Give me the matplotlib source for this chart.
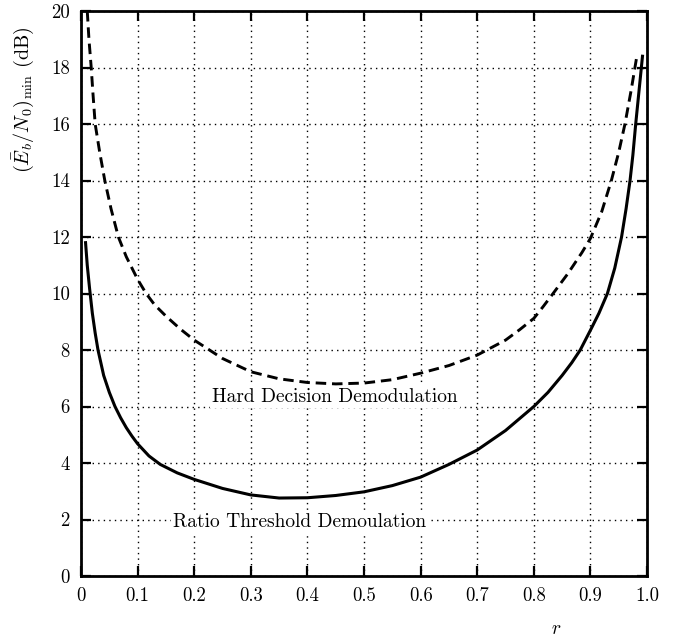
import matplotlib
matplotlib.use("Agg")
import matplotlib.pyplot as plt

plt.rcParams["font.family"] = ["cmr10", "DejaVu Serif"]
plt.rcParams["mathtext.fontset"] = "cm"
plt.rcParams["axes.formatter.use_mathtext"] = True

# Hard decision demodulation (dashed)
r_hd = [0.011, 0.014, 0.018, 0.021, 0.025, 0.033, 0.042, 0.053, 0.066, 0.08,
        0.09, 0.1, 0.115, 0.13, 0.15, 0.175, 0.2, 0.25, 0.3, 0.35, 0.4, 0.45,
        0.5, 0.55, 0.6, 0.65, 0.7, 0.75, 0.775, 0.8, 0.817, 0.834, 0.86,
        0.885, 0.9, 0.92, 0.937, 0.95, 0.961, 0.972, 0.982]
eb_hd = [20.0, 19.0, 18.0, 17.1, 16.0, 15.0, 14.0, 13.0, 12.0, 11.3,
         10.9, 10.5, 10.0, 9.6, 9.2, 8.75, 8.35, 7.7, 7.23, 6.98, 6.85, 6.8,
         6.83, 6.95, 7.18, 7.45, 7.82, 8.35, 8.72, 9.12, 9.55, 10.0, 10.7,
         11.45, 11.95, 12.9, 14.0, 15.0, 16.0, 17.2, 18.4]

# Ratio threshold demodulation (solid)
r_rt = [0.008, 0.011, 0.015, 0.02, 0.025, 0.03, 0.04, 0.05, 0.06, 0.07,
        0.08, 0.09, 0.1, 0.12, 0.14, 0.17, 0.2, 0.25, 0.3, 0.35, 0.4, 0.45,
        0.5, 0.55, 0.6, 0.65, 0.7, 0.75, 0.8, 0.825, 0.85, 0.867, 0.882, 0.9,
        0.915, 0.93, 0.943, 0.955, 0.963, 0.97, 0.975, 0.98, 0.986, 0.992]
eb_rt = [11.8, 11.0, 10.2, 9.3, 8.6, 8.0, 7.1, 6.5, 6.0, 5.6,
         5.25, 4.95, 4.68, 4.25, 3.95, 3.65, 3.42, 3.1, 2.87, 2.76, 2.77, 2.85,
         2.98, 3.2, 3.5, 3.95, 4.46, 5.15, 6.0, 6.5, 7.1, 7.55, 8.0, 8.7,
         9.3, 10.0, 10.9, 12.0, 13.0, 14.0, 14.9, 16.0, 17.2, 18.4]

xticks = [0, 0.1, 0.2, 0.3, 0.4, 0.5, 0.6, 0.7, 0.8, 0.9, 1.0]
xticklabels = ["0", "0.1", "0.2", "0.3", "0.4", "0.5", "0.6", "0.7", "0.8", "0.9", "1.0"]
yticks = list(range(0, 21, 2))

fig = plt.figure(figsize=(6.73, 6.41), dpi=100)
ax = fig.add_axes([0.1204, 0.1014, 0.841, 0.8814])

ax.plot(r_hd, eb_hd, color="black", lw=2.1, linestyle=(0, (3.6, 2)))
ax.plot(r_rt, eb_rt, color="black", lw=2.2)

ax.set_xlim(0, 1.0)
ax.set_ylim(0, 20)
ax.set_xticks(xticks)
ax.set_xticklabels(xticklabels)
ax.set_yticks(yticks)
ax.set_yticklabels([str(v) for v in yticks])
ax.grid(True, color="black", lw=1.0, linestyle=(0, (1, 3)))
ax.tick_params(direction="in", length=7, width=1.6, labelsize=13.5,
               top=True, right=True, pad=8)
for s in ax.spines.values():
    s.set_linewidth(2.0)

box = dict(facecolor="white", edgecolor="none", pad=1.5)
ax.text(0.449, 6.35, "Hard Decision Demodulation", fontsize=14,
        ha="center", va="center", bbox=box)
ax.text(0.386, 1.92, "Ratio Threshold Demoulation", fontsize=14,
        ha="center", va="center", bbox=box)

ax.set_xlabel("$r$", fontsize=14)
ax.xaxis.set_label_coords(0.839, -0.078)
fig.text(23 / 673, 1 - 100 / 641, r"$(\bar{E}_b/N_0)_{\rm min}$ (dB)",
         rotation=90, ha="center", va="center", fontsize=14.5)

fig.savefig("out.png", dpi=100)
